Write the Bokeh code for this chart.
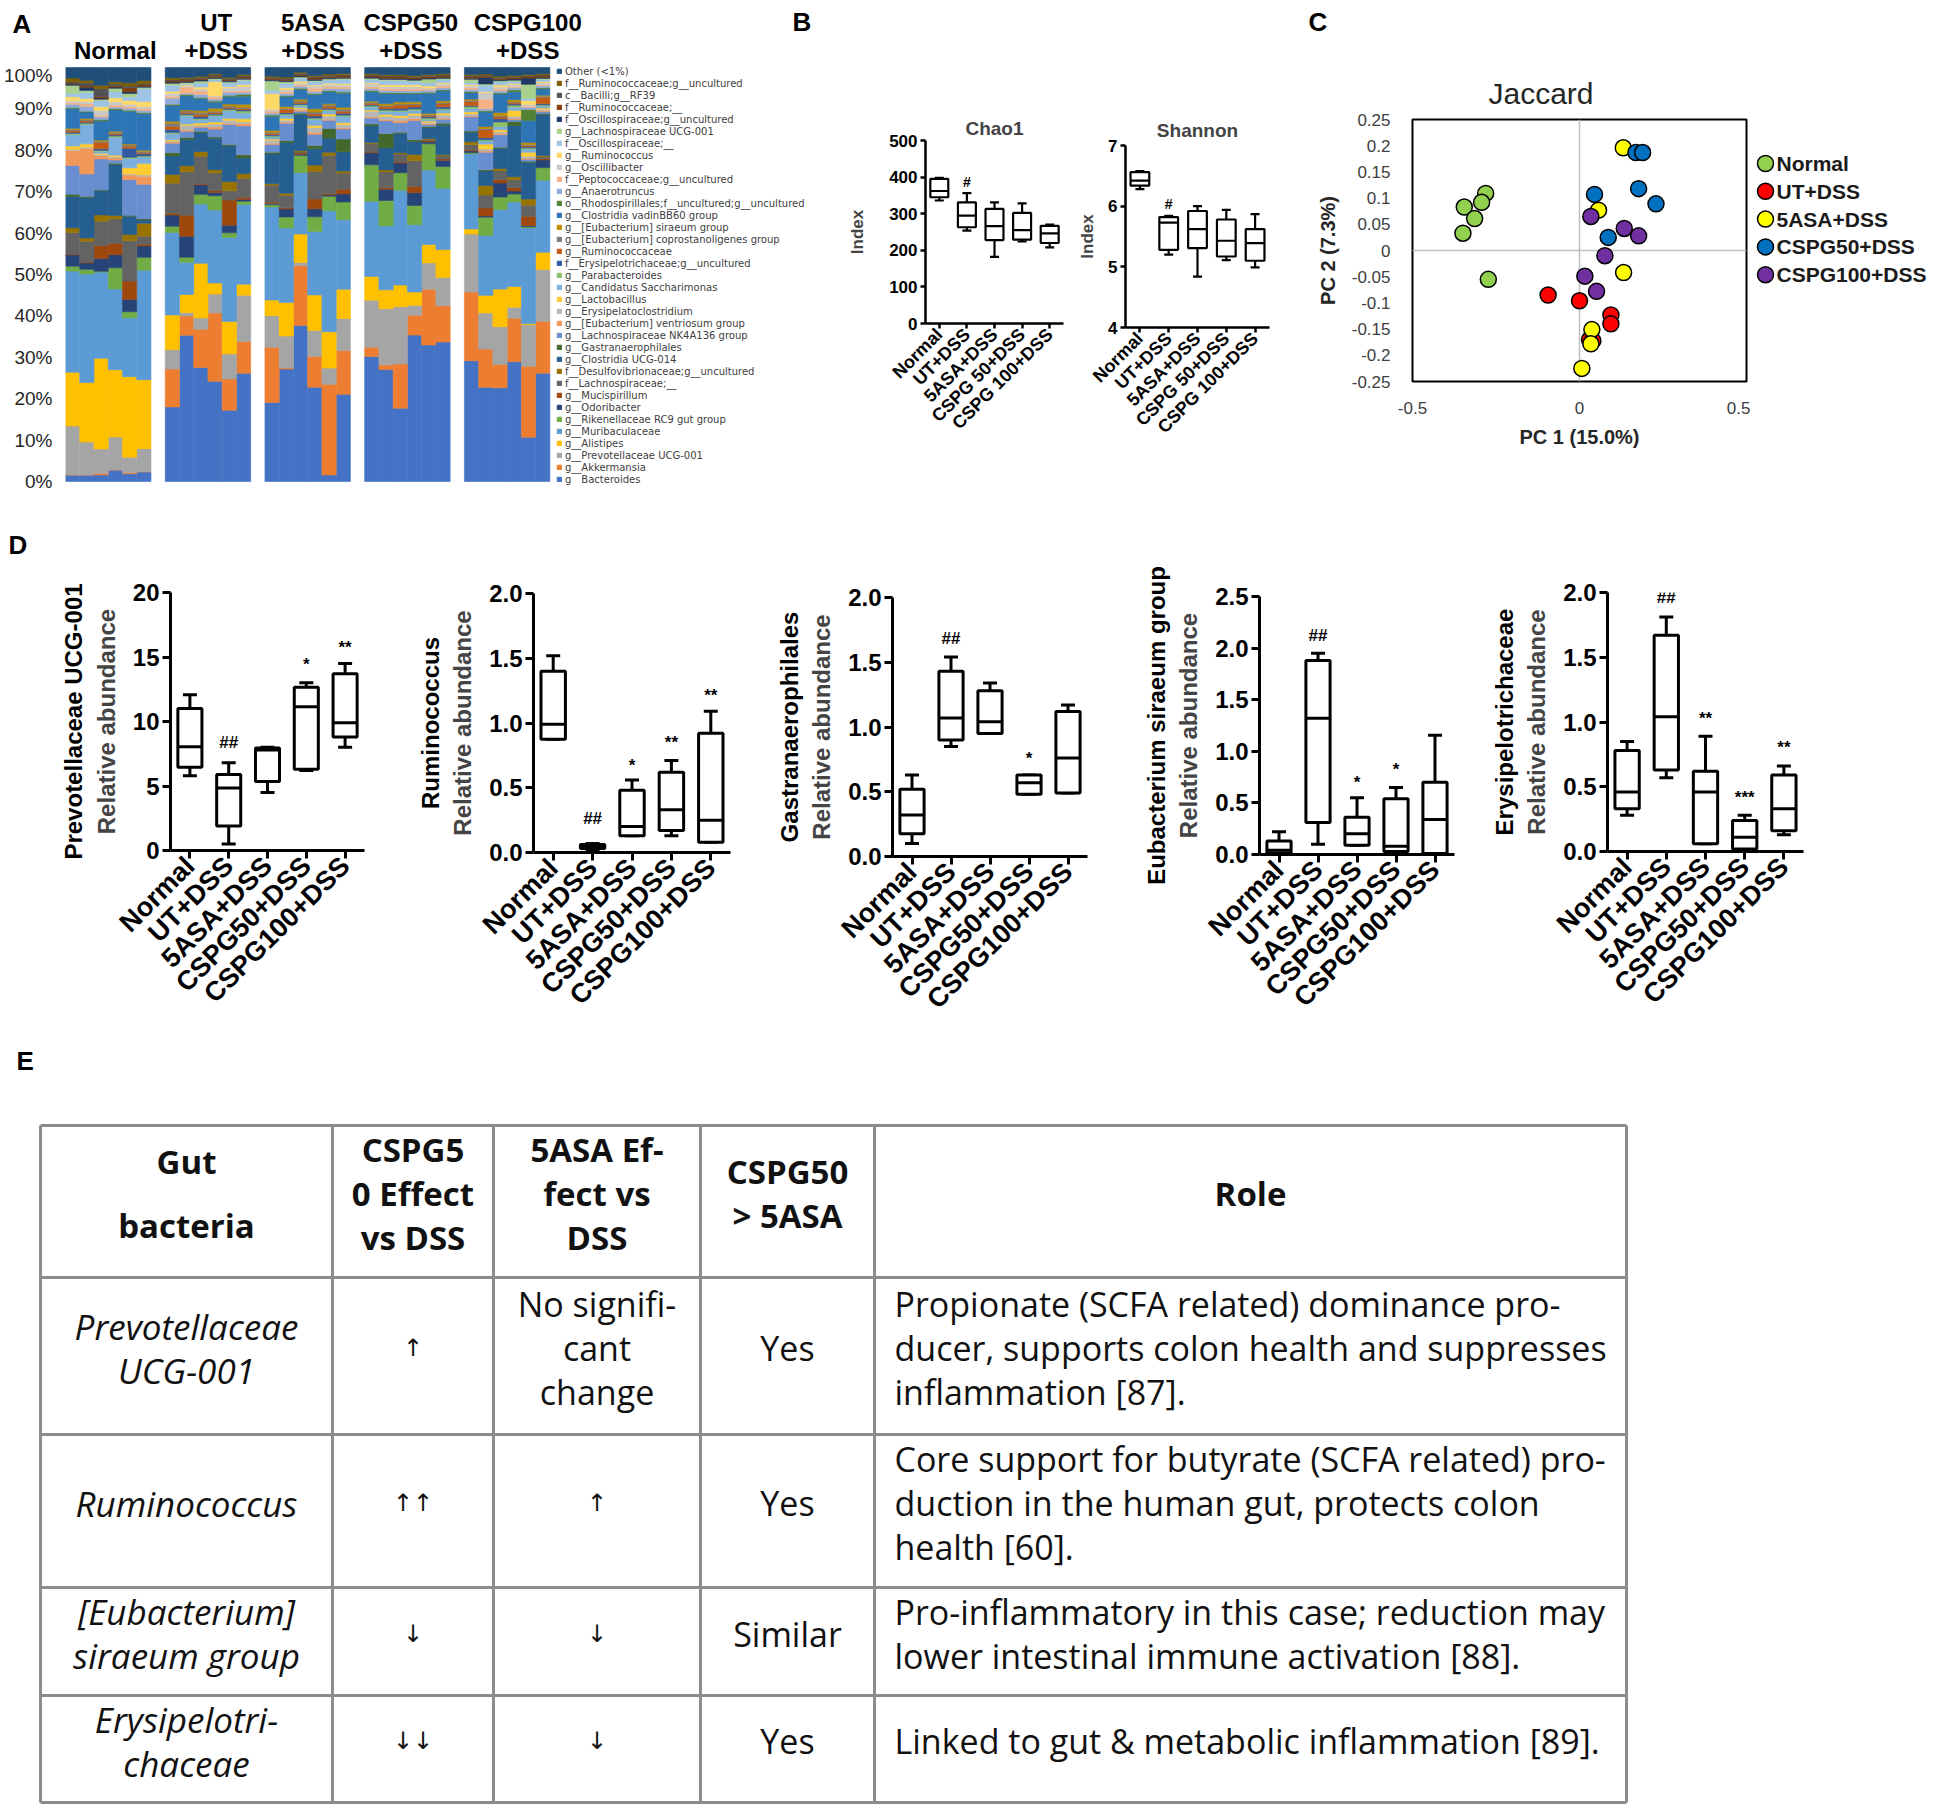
import math
from bokeh.plotting import figure
from bokeh.models import (Range1d, FactorRange, FixedTicker, Legend, LegendItem,
                          Title, ColumnDataSource)
from bokeh.layouts import row, column
from bokeh.transform import dodge
from bokeh.core.properties import value
from bokeh.embed import file_html
from bokeh.resources import INLINE

FONT = "Liberation Sans"
TFONT = "Open Sans"

# ======================= DATA =======================
# ---- Panel A: relative abundance (%) per sample, taxa listed bottom -> top
taxa = [
    "g__Bacteroides", "g__Akkermansia", "g__Prevotellaceae UCG-001", "g__Alistipes",
    "g__Muribaculaceae", "g__Rikenellaceae RC9 gut group", "g__Odoribacter", "g__Mucispirillum",
    "f__Lachnospiraceae;__", "f__Desulfovibrionaceae;g__uncultured", "g__Clostridia UCG-014",
    "g__Gastranaerophilales", "g__Lachnospiraceae NK4A136 group", "g__[Eubacterium] ventriosum group",
    "g__Erysipelatoclostridium", "g__Lactobacillus", "g__Candidatus Saccharimonas", "g__Parabacteroides",
    "f__Erysipelotrichaceae;g__uncultured", "g__Ruminococcaceae",
    "g__[Eubacterium] coprostanoligenes group", "g__[Eubacterium] siraeum group",
    "g__Clostridia vadinBB60 group", "o__Rhodospirillales;f__uncultured;g__uncultured",
    "g__Anaerotruncus", "f__Peptococcaceae;g__uncultured", "g__Oscillibacter", "g__Ruminococcus",
    "f__Oscillospiraceae;__", "g__Lachnospiraceae UCG-001", "f__Oscillospiraceae;g__uncultured",
    "f__Ruminococcaceae;__", "c__Bacilli;g__RF39", "f__Ruminococcaceae;g__uncultured", "Other (<1%)",
]
taxa_colors = [
    "#4472C4", "#ED7D31", "#A5A5A5", "#FFC000", "#5B9BD5", "#70AD47",
    "#264478", "#9E480E", "#636363", "#997300", "#255E91", "#43682B",
    "#698ED0", "#F1975A", "#B7B7B7", "#FFCD33", "#7CAFDD", "#8CC168",
    "#335AA1", "#C55A11", "#7B7B7B", "#BF8F00", "#2E75B6", "#548235",
    "#8FAADC", "#F4B183", "#C9C9C9", "#FFD966", "#9DC3E6", "#A9D18E",
    "#203864", "#843C0C", "#525252", "#7F6000", "#1F4E79",
]
a_groups = ["Normal", "UT+DSS", "5ASA+DSS", "CSPG50+DSS", "CSPG100+DSS"]
a_group_titles = [["Normal"], ["UT", "+DSS"], ["5ASA", "+DSS"], ["CSPG50", "+DSS"], ["CSPG100", "+DSS"]]
a_ticks = [0, 10, 20, 30, 40, 50, 60, 70, 80, 90, 100]
a_tick_labels = ["0%", "10%", "20%", "30%", "40%", "50%", "60%", "70%", "80%", "90%", "100%"]

normal_1 = [1.6, 0, 12.1, 13.3, 25.0, 1.2, 2.8, 0.2, 5.3, 1.2, 7.7, 0.6, 7.1, 3.7, 0.3, 0.8, 2.8, 0.3, 0.3, 0.4, 0.3, 0.3, 4.8, 0.3, 0.8, 0.4, 0.5, 1.0, 0.8, 2.0, 0.3, 0.2, 0.3, 1.0, 2.6]
normal_2 = [1.6, 0, 8.2, 14.8, 27.0, 1.2, 1.6, 0.2, 5.2, 0.8, 10.0, 0.3, 5.6, 6.4, 0.3, 0.8, 4.8, 0.3, 0.3, 0.3, 0.3, 0.3, 1.6, 0.2, 1.2, 0.6, 0.6, 0.8, 1.5, 0.5, 0.8, 0.3, 0.8, 0.6, 3.2]
normal_3 = [1.6, 0.4, 6.1, 22.5, 21.4, 0.2, 3.2, 3.2, 6.0, 1.6, 6.0, 0.2, 7.7, 0.8, 0.3, 0.3, 0.5, 0.2, 0.4, 1.6, 0.3, 0.3, 4.8, 0.3, 0.6, 0.4, 1.2, 1.0, 1.5, 0.3, 0.3, 0.4, 2.0, 0.8, 4.4]
normal_4 = [2.8, 0, 8.1, 16.5, 19.8, 5.2, 3.2, 2.8, 6.0, 0.8, 12.5, 0.3, 0.8, 0.5, 0.3, 0.4, 4.4, 0.3, 0.3, 0.3, 0.3, 0.3, 5.2, 0.3, 0.4, 0.5, 0.8, 1.0, 1.5, 0.8, 0.3, 0.3, 0.5, 0.5, 3.5]
normal_5 = [2.0, 0.3, 4.0, 21.0, 15.3, 1.6, 3.2, 4.8, 10.5, 1.6, 4.8, 0.2, 9.3, 1.2, 0.3, 1.6, 2.4, 0.3, 2.4, 0.5, 0.3, 0.3, 8.5, 0.3, 0.5, 0.5, 0.5, 1.0, 1.0, 0.8, 0.5, 1.0, 0.5, 0.8, 4.0]
normal_6 = [2.4, 0, 5.7, 17.0, 27.0, 3.2, 2.8, 0.4, 2.0, 3.2, 0.8, 0.3, 8.5, 2.0, 0.3, 2.8, 1.6, 0.3, 0.5, 0.3, 0.3, 0.3, 9.0, 0.3, 0.5, 0.5, 0.5, 1.2, 3.2, 0.3, 0.3, 0.3, 0.3, 0.8, 3.2]
ut_1 = [18.9, 9.6, 4.9, 8.8, 20.9, 1.6, 2.8, 0.5, 7.6, 2.2, 4.7, 0.8, 2.4, 0.3, 0.3, 0.3, 1.5, 0.3, 0.8, 0.8, 0.8, 0.5, 4.0, 0.3, 1.5, 0.5, 0.8, 0.5, 1.5, 0.5, 0.3, 0.3, 0.3, 0.5, 2.6]
ut_2 = [36.2, 4.8, 0.8, 4.5, 8.0, 1.2, 5.2, 5.2, 10.8, 1.5, 6.5, 0.5, 1.5, 0.3, 1.2, 0.3, 2.0, 0.3, 0.3, 0.3, 0.3, 0.3, 3.5, 0.3, 0.3, 1.5, 0.3, 0.3, 0.3, 0.3, 0.3, 0.3, 0.3, 0.3, 2.5]
ut_3 = [28.6, 9.6, 2.8, 13.7, 14.9, 2.4, 2.4, 0.3, 6.8, 1.2, 4.8, 0.3, 1.0, 0.3, 0.3, 0.5, 0.8, 0.3, 0.5, 0.5, 0.5, 0.5, 3.0, 0.3, 0.8, 0.8, 0.5, 0.5, 1.0, 0.5, 0.3, 0.3, 0.3, 0.3, 2.2]
ut_4 = [25.4, 17.3, 4.8, 2.8, 18.5, 3.6, 0.8, 0.5, 4.5, 0.8, 8.0, 0.3, 2.0, 0.5, 0.8, 0.5, 1.5, 0.3, 0.3, 0.3, 0.3, 0.8, 1.5, 0.3, 0.5, 0.5, 0.3, 3.6, 0.5, 0.3, 0.3, 0.3, 0.3, 0.3, 1.6]
ut_5 = [18.5, 8.1, 6.5, 8.4, 21.8, 1.2, 2.0, 6.5, 2.4, 2.4, 9.3, 0.3, 5.2, 0.3, 0.8, 0.5, 2.0, 0.3, 0.3, 0.3, 0.3, 0.5, 2.0, 0.3, 0.8, 0.3, 0.8, 0.3, 1.0, 0.3, 0.3, 0.3, 0.3, 0.3, 2.5]
ut_6 = [27.4, 8.1, 11.7, 2.8, 20.2, 0.8, 0.5, 0.5, 4.8, 1.2, 4.0, 0.8, 7.3, 0.5, 0.5, 0.8, 1.5, 0.5, 0.3, 0.3, 0.3, 0.8, 2.0, 0.5, 0.5, 0.5, 1.0, 0.5, 1.0, 0.3, 0.3, 0.3, 0.3, 0.3, 1.8]
asa_1 = [20.1, 14.1, 8.0, 4.0, 23.7, 0.6, 0.3, 0.3, 4.3, 0.4, 7.6, 0.4, 2.0, 0.3, 0.8, 0.3, 0.5, 0.3, 0.3, 0.3, 0.3, 0.5, 3.6, 0.3, 0.5, 0.5, 0.5, 4.0, 0.8, 2.4, 0.3, 0.3, 0.3, 0.3, 2.2]
asa_2 = [28.6, 0.3, 8.1, 8.5, 19.0, 2.8, 2.0, 0.3, 3.2, 0.5, 12.9, 0.5, 4.4, 0.3, 0.5, 0.5, 0.8, 0.3, 0.3, 0.8, 0.3, 0.5, 2.5, 0.3, 0.5, 0.5, 0.5, 0.5, 1.0, 0.5, 0.3, 0.3, 0.3, 0.3, 2.4]
asa_3 = [39.9, 15.3, 0.8, 7.3, 15.7, 4.4, 0.3, 0.3, 0.3, 0.3, 9.3, 0.3, 0.5, 0.3, 0.3, 0.3, 0.5, 0.3, 0.3, 0.3, 0.3, 0.5, 2.5, 0.3, 0.5, 0.3, 0.5, 0.5, 0.8, 0.3, 0.3, 0.3, 0.3, 0.3, 1.2]
asa_4 = [23.3, 7.6, 6.4, 8.8, 15.7, 3.6, 2.0, 2.4, 6.8, 1.6, 4.0, 0.8, 2.8, 0.5, 1.2, 0.5, 1.5, 0.3, 0.5, 0.5, 0.5, 0.8, 3.5, 0.3, 0.5, 0.8, 0.5, 0.3, 0.8, 0.3, 0.3, 0.3, 0.3, 0.3, 2.0]
asa_5 = [1.6, 22.5, 4.0, 9.0, 30.0, 3.6, 0.3, 0.3, 9.5, 0.8, 3.5, 2.4, 2.0, 0.3, 0.8, 0.5, 0.8, 0.3, 0.3, 0.5, 0.3, 0.3, 3.0, 0.3, 0.5, 0.5, 0.5, 0.3, 0.8, 0.3, 0.3, 0.3, 0.3, 0.3, 1.6]
asa_6 = [21.7, 10.9, 8.0, 7.3, 17.3, 4.4, 2.0, 1.2, 4.0, 0.5, 4.8, 3.2, 2.5, 0.3, 0.8, 0.5, 1.5, 0.3, 0.5, 0.5, 0.5, 0.5, 3.5, 0.3, 0.8, 0.5, 0.5, 0.3, 1.0, 0.3, 0.3, 0.3, 0.3, 0.3, 1.5]
c50_1 = [32.6, 2.4, 12.3, 6.2, 19.6, 9.5, 3.2, 0.3, 2.0, 0.3, 4.4, 0.5, 1.5, 0.3, 1.5, 0.3, 0.8, 0.3, 0.3, 0.3, 0.3, 0.3, 2.5, 0.3, 0.5, 0.5, 0.8, 0.3, 0.8, 0.3, 0.3, 0.3, 0.3, 0.3, 1.6]
c50_2 = [28.2, 1.2, 14.1, 4.8, 16.1, 6.4, 2.8, 0.4, 4.0, 0.5, 5.6, 3.6, 3.2, 0.3, 0.8, 0.5, 0.8, 0.3, 0.3, 0.5, 0.3, 0.5, 2.5, 0.3, 0.5, 0.5, 0.5, 0.5, 1.0, 0.3, 0.3, 0.3, 0.3, 0.3, 1.8]
c50_3 = [18.3, 11.1, 14.3, 5.4, 23.7, 4.4, 2.4, 0.3, 2.0, 0.3, 4.8, 0.3, 2.4, 0.5, 0.8, 0.5, 1.0, 0.3, 0.5, 0.8, 0.3, 0.5, 2.0, 0.3, 0.5, 0.5, 0.5, 0.5, 1.0, 0.3, 0.3, 0.3, 0.3, 0.3, 1.8]
c50_4 = [36.7, 5.0, 2.4, 3.4, 16.9, 4.8, 3.2, 1.6, 6.4, 1.6, 3.2, 0.5, 4.8, 0.5, 0.8, 0.5, 0.8, 0.3, 0.5, 0.5, 0.3, 0.5, 2.0, 0.3, 0.5, 0.5, 0.5, 0.5, 0.8, 0.3, 0.3, 0.3, 0.3, 0.3, 2.0]
c50_5 = [35.4, 14.5, 6.8, 4.8, 19.3, 6.8, 0.5, 0.3, 0.3, 0.3, 2.8, 0.3, 0.5, 0.3, 0.3, 0.3, 0.5, 0.3, 0.3, 0.3, 0.3, 0.3, 5.2, 0.3, 0.5, 0.3, 0.3, 0.5, 0.8, 1.0, 0.3, 0.3, 0.3, 0.3, 1.8]
c50_6 = [35.8, 9.3, 7.2, 7.2, 15.7, 5.6, 1.6, 0.3, 0.8, 0.3, 7.6, 0.5, 1.0, 0.3, 0.8, 0.5, 0.8, 0.3, 0.5, 0.8, 0.3, 0.5, 2.5, 0.3, 0.5, 0.5, 0.5, 0.3, 0.8, 0.3, 0.3, 0.3, 0.3, 0.3, 1.6]
c100_1 = [30.6, 17.4, 14.7, 1.3, 19.0, 0.3, 0.5, 0.3, 1.2, 0.8, 2.4, 0.3, 3.6, 0.3, 0.5, 0.5, 0.8, 0.5, 0.3, 1.0, 0.3, 0.3, 1.6, 0.3, 0.5, 0.5, 0.5, 0.3, 0.5, 0.8, 0.3, 0.3, 0.3, 0.3, 1.8]
c100_2 = [23.5, 9.5, 9.0, 4.4, 14.9, 4.6, 0.3, 2.0, 3.2, 2.4, 3.6, 0.3, 4.4, 0.3, 0.5, 1.2, 0.8, 0.3, 0.5, 2.0, 0.3, 0.5, 3.6, 0.3, 0.5, 2.4, 1.6, 0.3, 1.6, 0.3, 1.6, 0.3, 0.3, 0.3, 1.6]
c100_3 = [24.1, 6.0, 9.7, 9.7, 20.5, 3.2, 3.6, 0.8, 2.4, 0.5, 5.2, 0.3, 3.2, 0.3, 0.5, 0.5, 0.8, 1.2, 0.8, 0.5, 0.3, 0.8, 4.8, 0.3, 0.5, 0.5, 0.5, 0.5, 0.8, 0.3, 0.3, 0.3, 0.3, 0.3, 2.2]
c100_4 = [30.2, 10.9, 2.8, 5.2, 21.3, 2.0, 0.8, 0.8, 2.0, 0.8, 12.9, 1.0, 0.5, 0.3, 0.5, 1.5, 0.8, 0.5, 0.3, 0.3, 0.3, 0.5, 2.0, 0.5, 0.5, 0.3, 0.5, 0.3, 0.5, 0.3, 0.3, 0.3, 0.3, 0.3, 2.0]
c100_5 = [11.3, 18.1, 10.5, 0.3, 24.4, 0.3, 0.3, 2.4, 2.8, 1.6, 9.3, 0.3, 0.5, 0.3, 0.5, 1.0, 0.8, 0.3, 0.3, 0.3, 0.3, 0.5, 5.6, 2.8, 0.5, 0.3, 0.5, 1.0, 0.5, 3.6, 1.6, 0.3, 0.3, 0.3, 1.8]
c100_6 = [27.8, 13.3, 13.3, 4.4, 18.5, 3.2, 2.0, 0.3, 0.5, 0.3, 10.5, 0.3, 0.5, 0.3, 0.3, 0.3, 0.5, 0.3, 0.3, 1.6, 0.3, 0.3, 1.6, 0.3, 0.5, 0.3, 0.5, 0.3, 0.5, 0.3, 0.3, 0.3, 0.3, 0.3, 1.6]

# ---- Panel B: alpha diversity (min, q1, median, q3, max)
b_groups = ["Normal", "UT+DSS", "5ASA+DSS", "CSPG 50+DSS", "CSPG 100+DSS"]
chao1_min = [336, 254, 182, 224, 208]
chao1_q1 = [345, 263, 228, 229, 220]
chao1_med = [362, 295, 266, 255, 246]
chao1_q3 = [395, 331, 313, 302, 267]
chao1_max = [398, 356, 331, 328, 270]
chao1_marks = ["", "#", "", "", ""]
chao1_mark_y = [0, 386, 0, 0, 0]
chao1_ticks = [0, 100, 200, 300, 400, 500]
shannon_min = [6.28, 5.20, 4.84, 5.11, 4.99]
shannon_q1 = [6.34, 5.28, 5.31, 5.17, 5.10]
shannon_med = [6.42, 5.73, 5.62, 5.43, 5.39]
shannon_q3 = [6.56, 5.82, 5.92, 5.78, 5.62]
shannon_max = [6.58, 5.84, 6.00, 5.94, 5.87]
shannon_marks = ["", "#", "", "", ""]
shannon_mark_y = [0, 6.04, 0, 0, 0]
shannon_ticks = [4, 5, 6, 7]

# ---- Panel C: PCoA (Jaccard)
c_groups = ["Normal", "UT+DSS", "5ASA+DSS", "CSPG50+DSS", "CSPG100+DSS"]
c_colors = ["#92D050", "#FF0000", "#FFFF00", "#0070C0", "#7030A0"]
normal_pc1 = [-0.281, -0.293, -0.345, -0.314, -0.349, -0.273]
normal_pc2 = [0.109, 0.092, 0.083, 0.061, 0.033, -0.055]
ut_pc1 = [-0.094, 0.000, 0.094, 0.094, 0.030, 0.040]
ut_pc2 = [-0.085, -0.096, -0.123, -0.140, -0.170, -0.172]
asa_pc1 = [0.131, 0.057, 0.132, 0.037, 0.034, 0.007]
asa_pc2 = [0.196, 0.077, -0.042, -0.151, -0.178, -0.225]
c50_pc1 = [0.169, 0.189, 0.177, 0.229, 0.045, 0.086]
c50_pc2 = [0.187, 0.187, 0.118, 0.089, 0.107, 0.025]
c100_pc1 = [0.034, 0.134, 0.177, 0.076, 0.016, 0.051]
c100_pc2 = [0.065, 0.042, 0.028, -0.010, -0.049, -0.078]
c_x_ticks = [-0.5, 0, 0.5]
c_x_labels = ["-0.5", "0", "0.5"]
c_y_ticks = [-0.25, -0.2, -0.15, -0.1, -0.05, 0, 0.05, 0.1, 0.15, 0.2, 0.25]
c_y_labels = ["-0.25", "-0.2", "-0.15", "-0.1", "-0.05", "0", "0.05", "0.1", "0.15", "0.2", "0.25"]

# ---- Panel D: relative abundance box plots (min, q1, median, q3, max)
d_groups = ["Normal", "UT+DSS", "5ASA+DSS", "CSPG50+DSS", "CSPG100+DSS"]
prev_min = [5.8, 0.5, 4.5, 6.2, 8.0]
prev_q1 = [6.45, 1.9, 5.35, 6.3, 8.8]
prev_med = [8.05, 4.85, 7.8, 11.15, 9.9]
prev_q3 = [11.0, 5.9, 7.95, 12.65, 13.7]
prev_max = [12.08, 6.8, 8.0, 13.0, 14.5]
prev_marks = ["", "##", "", "*", "**"]
prev_mark_y = [0, 8.4, 0, 14.4, 15.7]
prev_ticks = [0, 5, 10, 15, 20]
prev_tick_labels = ["0", "5", "10", "15", "20"]

rum_min = [0.875, 0.023, 0.13, 0.13, 0.08]
rum_q1 = [0.875, 0.03, 0.13, 0.17, 0.08]
rum_med = [0.99, 0.044, 0.20, 0.33, 0.25]
rum_q3 = [1.40, 0.062, 0.48, 0.62, 0.92]
rum_max = [1.52, 0.07, 0.56, 0.71, 1.09]
rum_marks = ["", "##", "*", "**", "**"]
rum_mark_y = [0, 0.26, 0.67, 0.85, 1.21]
rum_ticks = [0, 0.5, 1.0, 1.5, 2.0]
rum_tick_labels = ["0.0", "0.5", "1.0", "1.5", "2.0"]

gas_min = [0.10, 0.85, 0.95, 0.48, 0.49]
gas_q1 = [0.175, 0.90, 0.95, 0.48, 0.49]
gas_med = [0.32, 1.07, 1.04, 0.57, 0.76]
gas_q3 = [0.52, 1.43, 1.28, 0.63, 1.12]
gas_max = [0.63, 1.54, 1.34, 0.63, 1.17]
gas_marks = ["", "##", "", "*", ""]
gas_mark_y = [0, 1.68, 0, 0.76, 0]
gas_ticks = [0, 0.5, 1.0, 1.5, 2.0]
gas_tick_labels = ["0.0", "0.5", "1.0", "1.5", "2.0"]

eub_min = [0.01, 0.10, 0.09, 0.02, 0.01]
eub_q1 = [0.015, 0.31, 0.09, 0.03, 0.01]
eub_med = [0.04, 1.32, 0.20, 0.08, 0.34]
eub_q3 = [0.13, 1.88, 0.36, 0.54, 0.70]
eub_max = [0.22, 1.95, 0.55, 0.65, 1.155]
eub_marks = ["", "##", "*", "*", ""]
eub_mark_y = [0, 2.12, 0.70, 0.82, 0]
eub_ticks = [0, 0.5, 1.0, 1.5, 2.0, 2.5]
eub_tick_labels = ["0.0", "0.5", "1.0", "1.5", "2.0", "2.5"]

ery_min = [0.28, 0.57, 0.06, 0.01, 0.13]
ery_q1 = [0.33, 0.63, 0.06, 0.02, 0.16]
ery_med = [0.46, 1.04, 0.46, 0.11, 0.33]
ery_q3 = [0.78, 1.67, 0.62, 0.24, 0.59]
ery_max = [0.85, 1.81, 0.89, 0.28, 0.66]
ery_marks = ["", "##", "**", "***", "**"]
ery_mark_y = [0, 1.96, 1.03, 0.42, 0.80]
ery_ticks = [0, 0.5, 1.0, 1.5, 2.0]
ery_tick_labels = ["0.0", "0.5", "1.0", "1.5", "2.0"]

# ---- Panel E: table
tbl_header = [["Gut", "bacteria"], ["CSPG5", "0 Effect", "vs DSS"], ["5ASA Ef-", "fect vs", "DSS"],
              ["CSPG50", "> 5ASA"], ["Role"]]
tbl_rows = [
    [["Prevotellaceae", "UCG-001"], ["↑"], ["No signifi-", "cant", "change"], ["Yes"],
     ["Propionate (SCFA related) dominance pro-", "ducer, supports colon health and suppresses",
      "inflammation [87]."]],
    [["Ruminococcus"], ["↑↑"], ["↑"], ["Yes"],
     ["Core support for butyrate (SCFA related) pro-", "duction in the human gut, protects colon",
      "health [60]."]],
    [["[Eubacterium]", "siraeum group"], ["↓"], ["↓"], ["Similar"],
     ["Pro-inflammatory in this case; reduction may", "lower intestinal immune activation [88]."]],
    [["Erysipelotri-", "chaceae"], ["↓↓"], ["↓"], ["Yes"],
     ["Linked to gut & metabolic inflammation [89]."]],
]

# ======================= HELPERS =======================
def no_align(p):
    try:
        p.frame_align = False
    except Exception:
        pass


def make_fig(sx, sy, w, h, fl, fr, ft, fb, xr, yr, title=None):
    p = figure(width=w, height=h, x_range=xr, y_range=yr, title=title,
               output_backend="svg", toolbar_location=None,
               min_border_left=fl - sx, min_border_right=sx + w - fr,
               min_border_top=ft - sy, min_border_bottom=sy + h - fb)
    no_align(p)
    p.outline_line_color = None
    p.xgrid.visible = False
    p.ygrid.visible = False
    p.background_fill_color = "white"
    p.border_fill_color = "white"
    return p


def strip_fig(sx, sy, w, h):
    p = figure(width=w, height=h, x_range=Range1d(sx, sx + w), y_range=Range1d(sy + h, sy),
               x_axis_location=None, y_axis_location=None, min_border=0, title=None,
               output_backend="svg", toolbar_location=None)
    no_align(p)
    p.outline_line_color = None
    p.grid.visible = False
    p.background_fill_color = "white"
    p.border_fill_color = "white"
    return p


def prism_axes(p, ticks, tick_labels, tick_px, cat_px, lw, tick_len):
    for ax in list(p.xaxis) + list(p.yaxis):
        ax.axis_line_color = "black"
        ax.axis_line_width = lw
        ax.major_tick_line_color = "black"
        ax.major_tick_line_width = lw
        ax.major_tick_in = 0
        ax.major_tick_out = tick_len
        ax.minor_tick_line_color = None
        ax.major_label_text_font = FONT
        ax.major_label_text_font_style = "bold"
        ax.major_label_text_color = "black"
        ax.major_label_standoff = 3
    p.yaxis.ticker = FixedTicker(ticks=ticks)
    if tick_labels is not None:
        p.yaxis.major_label_overrides = {t: l for t, l in zip(ticks, tick_labels)}
    p.yaxis.major_label_text_font_size = tick_px
    p.xaxis.major_label_text_font_size = cat_px
    p.xaxis.major_label_orientation = math.pi / 4


def boxes(p, groups, lo, q1, med, q3, hi, box_w, lw, cap):
    src = ColumnDataSource(dict(g=groups, lo=lo, q1=q1, med=med, q3=q3, hi=hi))
    p.segment(x0="g", y0="q3", x1="g", y1="hi", source=src, line_color="black", line_width=lw)
    p.segment(x0="g", y0="lo", x1="g", y1="q1", source=src, line_color="black", line_width=lw)
    p.scatter(x="g", y="hi", marker="dash", size=cap, line_color="black", line_width=lw, source=src)
    p.scatter(x="g", y="lo", marker="dash", size=cap, line_color="black", line_width=lw, source=src)
    p.vbar(x="g", bottom="q1", top="q3", width=box_w, fill_color="white", line_color="black",
           line_width=lw, source=src)
    p.segment(x0=dodge("g", -box_w / 2, range=p.x_range), y0="med",
              x1=dodge("g", box_w / 2, range=p.x_range), y1="med",
              source=src, line_color="black", line_width=lw)


def marks(p, groups, texts, ys, size):
    src = ColumnDataSource(dict(g=groups, t=texts, y=ys))
    p.text(x="g", y="y", text="t", source=src, text_font=value(FONT), text_font_size=size,
           text_font_style="bold", text_align="center", text_baseline="middle", text_color="black")


def bold_text(p, xs, ys, texts, size, align="left", baseline="top", color="black"):
    p.text(x=xs, y=ys, text=texts, text_font=value(FONT), text_font_size=size,
           text_font_style="bold", text_align=align, text_baseline=baseline, text_color=color)


# ======================= HEADER STRIP (letters A, B, C + group titles of A) ===========
ROW1_Y = 64
A_FL, A_FR_BARS, A_Y100, A_Y0 = 64, 549, 67, 481          # screen px of bar area
A_X0, A_X1_BARS = -0.5, 33.5
A_PX = (A_FR_BARS - A_FL) / (A_X1_BARS - A_X0)
A_FR, A_FT, A_FB = 826, 65, 485                             # frame also holds the legend
A_PY = (A_Y0 - A_Y100) / 100.0
A_TITLE_DX = [8, 9, 6, 4, 21]                               # title offsets (px) from group centres

def a_screen_x(xd):
    return A_FL + (xd - A_X0) * A_PX

pH = strip_fig(0, 0, 1934, ROW1_Y)
bold_text(pH, [12, 792, 1308], [8, 6, 6], ["A", "B", "C"], "26px")
gx, gy, gt = [], [], []
for g, lines in enumerate(a_group_titles):
    for j, t in enumerate(reversed(lines)):
        gx.append(a_screen_x(g * 7 + 2.5) + A_TITLE_DX[g])
        gy.append(50 - 28 * j)
        gt.append(t)
bold_text(pH, gx, gy, gt, "24px", align="center", baseline="middle")

# ======================= PANEL A =======================
a_xr = Range1d(A_X0, A_X0 + (A_FR - A_FL) / A_PX)
a_yr = Range1d((A_Y0 - A_FB) / A_PY, 100 + (A_Y100 - A_FT) / A_PY)
pA = make_fig(0, ROW1_Y, 830, 515 - ROW1_Y, A_FL, A_FR, A_FT, A_FB, a_xr, a_yr)
a_rows = [normal_1, normal_2, normal_3, normal_4, normal_5, normal_6,
          ut_1, ut_2, ut_3, ut_4, ut_5, ut_6,
          asa_1, asa_2, asa_3, asa_4, asa_5, asa_6,
          c50_1, c50_2, c50_3, c50_4, c50_5, c50_6,
          c100_1, c100_2, c100_3, c100_4, c100_5, c100_6]
a_data = {"x": [g * 7 + i for g in range(len(a_groups)) for i in range(6)]}
a_keys = []
for k in range(len(taxa)):
    key = "t%d" % k
    a_keys.append(key)
    a_data[key] = [r[k] * 100.0 / sum(r) for r in a_rows]
a_rs = pA.vbar_stack(a_keys, x="x", width=1.0, color=taxa_colors, line_width=0.6,
                     source=ColumnDataSource(a_data))
pA.xaxis.visible = False
ya = pA.yaxis[0]
ya.ticker = FixedTicker(ticks=a_ticks)
ya.major_label_overrides = {t: l for t, l in zip(a_ticks, a_tick_labels)}
ya.axis_line_color = None
ya.major_tick_line_color = None
ya.minor_tick_line_color = None
ya.major_label_text_font = FONT
ya.major_label_text_font_size = "19px"
ya.major_label_text_color = "#262626"
ya.major_label_standoff = 7

legA = Legend(items=[LegendItem(label=taxa[k], renderers=[a_rs[k]]) for k in reversed(range(len(taxa)))],
              location=(555 - A_FL, 0), glyph_width=6, glyph_height=6, label_height=12,
              label_width=10, label_standoff=3, spacing=0, padding=0, margin=0,
              border_line_color=None, background_fill_alpha=0,
              label_text_font="DejaVu Sans", label_text_font_size="10px", label_text_color="#404040")
pA.add_layout(legA)

# ======================= PANEL B =======================
def b_panel(sx, w, fl, fr, ft, fb, yr, ticks, title, data, mk, mky, label_standoff, title_standoff):
    p = make_fig(sx, ROW1_Y, w, 515 - ROW1_Y, fl, fr, ft, fb, FactorRange(factors=b_groups), yr, title=title)
    p.title.align = "center"
    p.title.text_font = FONT
    p.title.text_font_size = "19px"
    p.title.text_font_style = "bold"
    p.title.standoff = title_standoff
    prism_axes(p, ticks, None, "17px", "18px", 2.5, 5)
    p.yaxis.axis_label = "Index"
    p.yaxis.axis_label_text_font = FONT
    p.yaxis.axis_label_text_font_size = "17px"
    p.yaxis.axis_label_text_font_style = "bold"
    p.yaxis.axis_label_standoff = label_standoff
    boxes(p, b_groups, *data, 0.65, 2.2, 9)
    marks(p, b_groups, mk, mky, "14px")
    return p

pB1 = b_panel(830, 245, 925, 1063, 140, 323, Range1d(0, 500), chao1_ticks, "Chao1",
              (chao1_min, chao1_q1, chao1_med, chao1_q3, chao1_max), chao1_marks, chao1_mark_y, 19, 4)
pB2 = b_panel(1075, 225, 1125, 1269, 145, 327, Range1d(4, 7), shannon_ticks, "Shannon",
              (shannon_min, shannon_q1, shannon_med, shannon_q3, shannon_max), shannon_marks,
              shannon_mark_y, 8, 10)

# ======================= PANEL C =======================
C_FL, C_FR, C_FT, C_FB = 1412, 1746, 119, 381
pC = make_fig(1300, ROW1_Y, 450, 515 - ROW1_Y, C_FL, C_FR, C_FT, C_FB, Range1d(-0.5, 0.5),
              Range1d(-0.25, 0.25), title="Jaccard")
pC.title.align = "left"
pC.title.offset = 76
pC.title.text_font = FONT
pC.title.text_font_size = "30px"
pC.title.text_font_style = "normal"
pC.title.text_color = "#262626"
pC.title.standoff = 20
pC.outline_line_color = "black"
pC.outline_line_width = 2
pC.xgrid.visible = True
pC.ygrid.visible = True
pC.xgrid.ticker = FixedTicker(ticks=[0])
pC.ygrid.ticker = FixedTicker(ticks=[0])
pC.grid.grid_line_color = "#BFBFBF"
pC.grid.grid_line_width = 1.5
for ax in list(pC.xaxis) + list(pC.yaxis):
    ax.axis_line_color = None
    ax.major_tick_line_color = None
    ax.minor_tick_line_color = None
    ax.major_label_text_font = FONT
    ax.major_label_text_font_size = "17px"
    ax.major_label_text_color = "#404040"
    ax.axis_label_text_font = FONT
    ax.axis_label_text_font_size = "20px"
    ax.axis_label_text_font_style = "bold"
    ax.axis_label_text_color = "#262626"
pC.xaxis.ticker = FixedTicker(ticks=c_x_ticks)
pC.xaxis.major_label_overrides = {t: l for t, l in zip(c_x_ticks, c_x_labels)}
pC.yaxis.ticker = FixedTicker(ticks=c_y_ticks)
pC.yaxis.major_label_overrides = {t: l for t, l in zip(c_y_ticks, c_y_labels)}
pC.xaxis.major_label_standoff = 14
pC.yaxis.major_label_standoff = 16
pC.xaxis.axis_label = "PC 1 (15.0%)"
pC.yaxis.axis_label = "PC 2 (7.3%)"
pC.xaxis.axis_label_standoff = 9
pC.yaxis.axis_label_standoff = 10
c_pts = [(normal_pc1, normal_pc2), (ut_pc1, ut_pc2), (asa_pc1, asa_pc2), (c50_pc1, c50_pc2),
         (c100_pc1, c100_pc2)]
for name, col, (xs, ys) in zip(c_groups, c_colors, c_pts):
    pC.scatter(x=xs, y=ys, size=16, fill_color=col, line_color="black", line_width=1.5)

# legend of panel C (its own small canvas to the right of the plot box)
pCL = strip_fig(1750, ROW1_Y, 184, 515 - ROW1_Y)
LEG_Y0, LEG_DY, LEG_X = 163, 27.8, 1765
leg_y = [LEG_Y0 + i * LEG_DY for i in range(len(c_groups))]
pCL.scatter(x=[LEG_X] * len(c_groups), y=leg_y, size=16, fill_color=c_colors, line_color="black",
            line_width=1.5)
bold_text(pCL, [LEG_X + 11] * len(c_groups), leg_y, c_groups, "21px", baseline="middle", color="#1a1a1a")

# ======================= PANEL D =======================
ROW2_Y = 515
D_Y = 560
pDs = strip_fig(0, ROW2_Y, 1934, D_Y - ROW2_Y)
bold_text(pDs, [8], [529], ["D"], "26px")

d_specs = [
    ("Prevotellaceae UCG-001", 0, 400, 170, 364, 592, 850, 20, prev_ticks, prev_tick_labels,
     (prev_min, prev_q1, prev_med, prev_q3, prev_max), prev_marks, prev_mark_y),
    ("Ruminococcus", 400, 360, 533, 730, 593, 852, 2.0, rum_ticks, rum_tick_labels,
     (rum_min, rum_q1, rum_med, rum_q3, rum_max), rum_marks, rum_mark_y),
    ("Gastranaerophilales", 760, 360, 892, 1087, 597, 856, 2.0, gas_ticks, gas_tick_labels,
     (gas_min, gas_q1, gas_med, gas_q3, gas_max), gas_marks, gas_mark_y),
    ("Eubacterium siraeum group", 1120, 360, 1259, 1454, 596, 854, 2.5, eub_ticks, eub_tick_labels,
     (eub_min, eub_q1, eub_med, eub_q3, eub_max), eub_marks, eub_mark_y),
    ("Erysipelotrichaceae", 1480, 454, 1607, 1803, 592, 851, 2.0, ery_ticks, ery_tick_labels,
     (ery_min, ery_q1, ery_med, ery_q3, ery_max), ery_marks, ery_mark_y),
]
d_figs = []
for (name, sx, w, fl, fr, ft, fb, ymax, ticks, tlabels, data, mk, mky) in d_specs:
    p = make_fig(sx, D_Y, w, 1035 - D_Y, fl, fr, ft, fb, FactorRange(factors=d_groups), Range1d(0, ymax))
    prism_axes(p, ticks, tlabels, "24px", "27px", 3, 8)
    p.yaxis.axis_label = "Relative abundance"
    p.yaxis.axis_label_text_font = FONT
    p.yaxis.axis_label_text_font_size = "24px"
    p.yaxis.axis_label_text_font_style = "bold"
    p.yaxis.axis_label_standoff = 10
    p.add_layout(Title(text=name, align="center", text_font=FONT, text_font_size="24px",
                       text_font_style="bold", text_color="black", standoff=5), "left")
    boxes(p, d_groups, *data, 0.62, 3, 14)
    marks(p, d_groups, mk, mky, "17px")
    d_figs.append(p)

# ======================= PANEL E (table) =======================
tbl_col_edges = [40, 332, 493, 700, 874, 1626]
tbl_row_edges = [1125, 1277, 1434, 1587, 1695, 1802]
pE = strip_fig(0, 1035, 1934, 769)
nR, nC = len(tbl_row_edges), len(tbl_col_edges)
pE.segment(x0=[tbl_col_edges[0]] * nR, y0=tbl_row_edges, x1=[tbl_col_edges[-1]] * nR, y1=tbl_row_edges,
           line_color="#8c8c8c", line_width=3)
pE.segment(x0=tbl_col_edges, y0=[tbl_row_edges[0]] * nC, x1=tbl_col_edges, y1=[tbl_row_edges[-1]] * nC,
           line_color="#8c8c8c", line_width=3)

styles = {}
def put(style, align, x, y, t):
    styles.setdefault((style, align), {"x": [], "y": [], "t": []})
    d = styles[(style, align)]
    d["x"].append(x); d["y"].append(y); d["t"].append(t)

LINE = 44
yc = (tbl_row_edges[0] + tbl_row_edges[1]) / 2 - 8
for ci, lines in enumerate(tbl_header):
    gap = 64 if ci == 0 else LINE
    xc = (tbl_col_edges[ci] + tbl_col_edges[ci + 1]) / 2
    n = len(lines)
    for j, t in enumerate(lines):
        put("bold", "center", xc, yc + (j - (n - 1) / 2) * gap, t)
for ri, cells in enumerate(tbl_rows):
    yc = (tbl_row_edges[ri + 1] + tbl_row_edges[ri + 2]) / 2 - 8
    for ci, lines in enumerate(cells):
        n = len(lines)
        for j, t in enumerate(lines):
            y = yc + (j - (n - 1) / 2) * LINE
            if ci == 4:
                put("normal", "left", tbl_col_edges[4] + 20, y, t)
            else:
                xc = (tbl_col_edges[ci] + tbl_col_edges[ci + 1]) / 2
                if ci == 0:
                    put("italic", "center", xc, y, t)
                elif all(ch in "↑↓" for ch in t):
                    put("arrow", "center", xc, y, t)
                else:
                    put("normal", "center", xc, y, t)

tbl_font_px = {"bold": "33px", "normal": "34px", "italic": "35px"}
for (style, align), d in styles.items():
    if style == "arrow":
        pE.text(x=d["x"], y=d["y"], text=d["t"], text_font=value("DejaVu Sans"), text_font_size="24px",
                text_align=align, text_baseline="middle", text_color="#111111")
    else:
        pE.text(x=d["x"], y=d["y"], text=d["t"], text_font=value(TFONT), text_font_size=tbl_font_px[style],
                text_font_style=style, text_align=align, text_baseline="middle", text_color="#111111")
bold_text(pE, [16], [1045], ["E"], "26px")

layout = column(pH, row(pA, pB1, pB2, pC, pCL), pDs, row(*d_figs), pE)
open("out.html", "w").write(file_html(layout, INLINE, title="Gut microbiota figure"))
